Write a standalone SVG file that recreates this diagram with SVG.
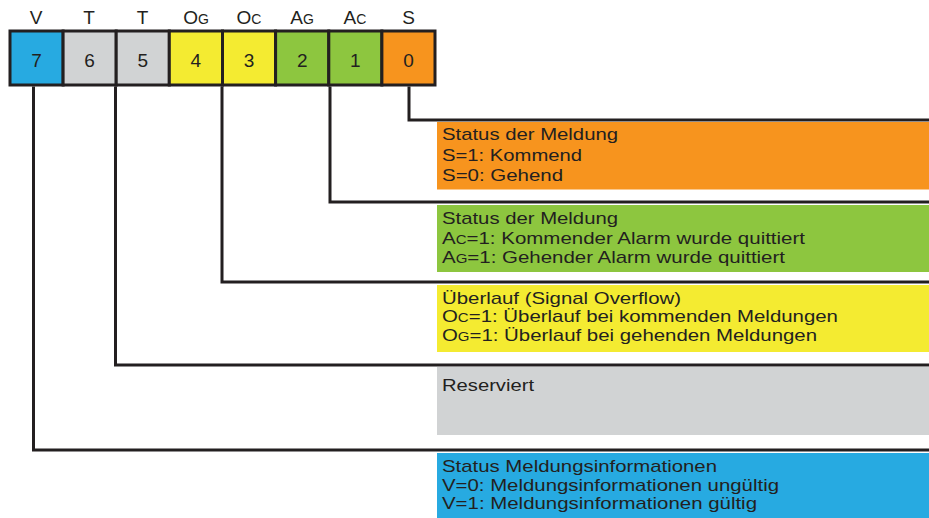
<svg xmlns="http://www.w3.org/2000/svg" width="929" height="518" viewBox="0 0 929 518">
<style>
text{font-family:"Liberation Sans",Arial,sans-serif;fill:#231f20}
.lbl{font-size:19px;text-anchor:middle}
.dig{font-size:19px;text-anchor:middle}
.t{font-size:17px}
.sc{font-size:12.5px}
.cell{stroke:#231f20;stroke-width:3}
.conn{fill:none;stroke:#231f20;stroke-width:3;stroke-linejoin:miter}
</style>
<rect width="929" height="518" fill="#fff"/>
<g id="header">
<text class="lbl" x="36" y="24">V</text>
<text class="lbl" x="89" y="24">T</text>
<text class="lbl" x="142.5" y="24">T</text>
<text class="lbl" x="196" y="24">O<tspan class="sc" style="font-size:14px">G</tspan></text>
<text class="lbl" x="249" y="24">O<tspan class="sc" style="font-size:14px">C</tspan></text>
<text class="lbl" x="302" y="24">A<tspan class="sc" style="font-size:14px">G</tspan></text>
<text class="lbl" x="355" y="24">A<tspan class="sc" style="font-size:14px">C</tspan></text>
<text class="lbl" x="408.5" y="24">S</text>
</g>
<g id="register">
<rect class="cell" x="10" y="31" width="53.1" height="54" fill="#27aae1"/>
<rect class="cell" x="63.1" y="31" width="53.1" height="54" fill="#d1d3d4"/>
<rect class="cell" x="116.2" y="31" width="53.1" height="54" fill="#d1d3d4"/>
<rect class="cell" x="169.3" y="31" width="53.2" height="54" fill="#f4eb31"/>
<rect class="cell" x="222.5" y="31" width="53.1" height="54" fill="#f4eb31"/>
<rect class="cell" x="275.6" y="31" width="53.2" height="54" fill="#8dc63f"/>
<rect class="cell" x="328.8" y="31" width="53.1" height="54" fill="#8dc63f"/>
<rect class="cell" x="381.9" y="31" width="53.1" height="54" fill="#f7941e"/>
<text class="dig" x="36.5" y="67">7</text>
<text class="dig" x="89.6" y="67">6</text>
<text class="dig" x="142.7" y="67">5</text>
<text class="dig" x="195.9" y="67">4</text>
<text class="dig" x="249" y="67">3</text>
<text class="dig" x="302.2" y="67">2</text>
<text class="dig" x="355.3" y="67">1</text>
<text class="dig" x="408.5" y="67">0</text>
</g>
<g id="connectors">
<path class="conn" d="M409,86.5 V120 H929"/>
<path class="conn" d="M330,86.5 V202 H929"/>
<path class="conn" d="M222,86.5 V282 H929"/>
<path class="conn" d="M115.5,86.5 V365 H929"/>
<path class="conn" d="M33.5,86.5 V450 H929"/>
</g>
<g id="bit0">
<rect x="437" y="122" width="492" height="67.5" fill="#f7941e"/>
<text class="t" x="442" y="140" textLength="176" lengthAdjust="spacingAndGlyphs">Status der Meldung</text>
<text class="t" x="442" y="160.5" textLength="140" lengthAdjust="spacingAndGlyphs">S=1: Kommend</text>
<text class="t" x="442" y="181" textLength="121" lengthAdjust="spacingAndGlyphs">S=0: Gehend</text>
</g>
<g id="bit12">
<rect x="437" y="205" width="492" height="67" fill="#8dc63f"/>
<text class="t" x="442" y="224" textLength="176" lengthAdjust="spacingAndGlyphs">Status der Meldung</text>
<text class="t" x="442" y="243.5" textLength="363" lengthAdjust="spacingAndGlyphs">A<tspan class="sc">C</tspan>=1: Kommender Alarm wurde quittiert</text>
<text class="t" x="442" y="263" textLength="343" lengthAdjust="spacingAndGlyphs">A<tspan class="sc">G</tspan>=1: Gehender Alarm wurde quittiert</text>
</g>
<g id="bit34">
<rect x="437" y="285" width="492" height="67" fill="#f4eb31"/>
<text class="t" x="442" y="303.5" textLength="239" lengthAdjust="spacingAndGlyphs">Überlauf (Signal Overflow)</text>
<text class="t" x="442" y="322" textLength="396" lengthAdjust="spacingAndGlyphs">O<tspan class="sc">C</tspan>=1: Überlauf bei kommenden Meldungen</text>
<text class="t" x="442" y="340.5" textLength="375" lengthAdjust="spacingAndGlyphs">O<tspan class="sc">G</tspan>=1: Überlauf bei gehenden Meldungen</text>
</g>
<g id="bit56">
<rect x="437" y="367" width="492" height="68" fill="#d1d3d4"/>
<text class="t" x="442" y="391" textLength="92" lengthAdjust="spacingAndGlyphs">Reserviert</text>
</g>
<g id="bit7">
<rect x="437" y="453" width="492" height="65" fill="#27aae1"/>
<text class="t" x="442" y="472" textLength="275" lengthAdjust="spacingAndGlyphs">Status Meldungsinformationen</text>
<text class="t" x="442" y="490.5" textLength="337" lengthAdjust="spacingAndGlyphs">V=0: Meldungsinformationen ungültig</text>
<text class="t" x="442" y="509" textLength="315" lengthAdjust="spacingAndGlyphs">V=1: Meldungsinformationen gültig</text>
</g>
</svg>
